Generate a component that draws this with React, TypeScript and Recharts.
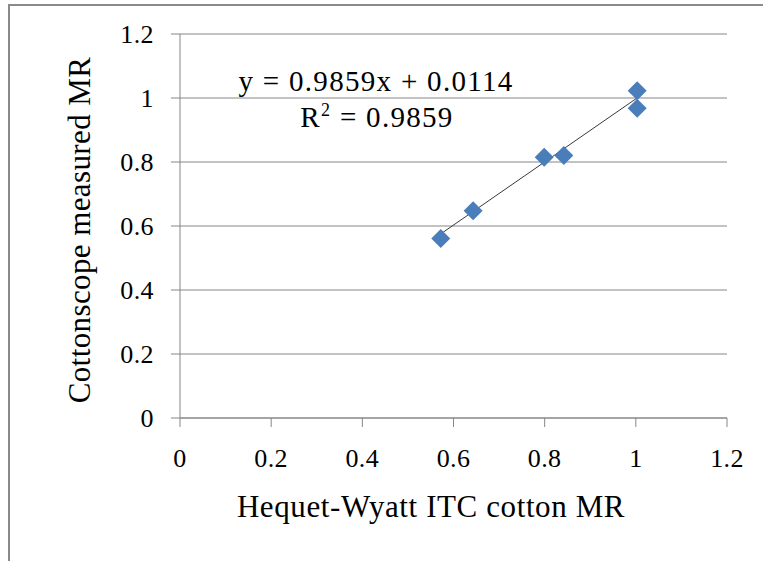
import React from 'react';
import { ScatterChart, Scatter, XAxis, YAxis, CartesianGrid, ReferenceLine } from 'recharts';

const hwMR = [0.572, 0.643, 0.799, 0.842, 1.003, 1.003];
const csMR = [0.561, 0.648, 0.815, 0.82, 1.023, 0.968];
const xTicks = [0, 0.2, 0.4, 0.6, 0.8, 1, 1.2];
const yTicks = [0, 0.2, 0.4, 0.6, 0.8, 1, 1.2];
const slope = 0.9859;
const intercept = 0.0114;
const rSquared = '0.9859';
const xTitle = 'Hequet-Wyatt ITC cotton MR';
const yTitle = 'Cottonscope measured MR';

const points = hwMR.map((x, i) => ({ x, y: csMR[i] }));
const xMin = Math.min(...hwMR);
const xMax = Math.max(...hwMR);
const trend = [
  { x: xMin, y: slope * xMin + intercept },
  { x: xMax, y: slope * xMax + intercept },
];

const FONT = 'Liberation Serif';
const GREY = '#868686';
const BLUE = '#4a7ebb';

const Diamond = (props: any) => {
  const { cx, cy } = props;
  const r = 9.5;
  return (
    <polygon
      points={`${cx},${cy - r} ${cx + r},${cy} ${cx},${cy + r} ${cx - r},${cy}`}
      fill={BLUE}
    />
  );
};

const tickStyle = { fill: '#000', fontSize: 26, fontFamily: FONT, letterSpacing: 0.4 };

export default function App() {
  return (
    <div
      style={{
        position: 'absolute',
        left: 0,
        top: 0,
        width: 763,
        height: 561,
        background: '#fff',
        fontFamily: FONT,
      }}
    >
      <div
        style={{
          position: 'absolute',
          left: 8,
          top: 4,
          width: 760,
          height: 560,
          borderTop: '2px solid #8a8a8a',
          borderLeft: '2px solid #8a8a8a',
        }}
      />
      <div style={{ position: 'absolute', left: 0, top: 0 }}>
        <ScatterChart
          width={763}
          height={561}
          margin={{ top: 34, right: 36, left: 80, bottom: 83 }}
          style={{ fontFamily: FONT }}
        >
          <CartesianGrid vertical={false} stroke={GREY} strokeWidth={1} />
          <XAxis
            type="number"
            dataKey="x"
            domain={[0, 1.2]}
            ticks={xTicks}
            interval={0}
            height={60}
            tickSize={9}
            tickMargin={22}
            axisLine={{ stroke: GREY }}
            tickLine={{ stroke: GREY }}
            tick={tickStyle}
          />
          <YAxis
            type="number"
            dataKey="y"
            domain={[0, 1.2]}
            ticks={yTicks}
            interval={0}
            width={100}
            tickSize={9}
            tickMargin={17}
            axisLine={{ stroke: GREY }}
            tickLine={{ stroke: GREY }}
            tick={tickStyle}
          />
          <ReferenceLine
            segment={[trend[0], trend[1]]}
            stroke="#3a3a3a"
            strokeWidth={1}
          />
          <Scatter data={points} shape={<Diamond />} isAnimationActive={false} />
          <text
            x={376}
            y={91}
            textAnchor="middle"
            style={{ fontFamily: FONT, fontSize: 29, letterSpacing: 1.3 }}
            fill="#000"
          >
            {`y = ${slope}x + ${intercept}`}
          </text>
          <text
            x={377}
            y={127}
            textAnchor="middle"
            style={{ fontFamily: FONT, fontSize: 29, letterSpacing: 1.3 }}
            fill="#000"
          >
            R
            <tspan style={{ fontSize: 18 }} dy={-11}>2</tspan>
            <tspan dy={11}>{` = ${rSquared}`}</tspan>
          </text>
          <text
            x={431}
            y={517}
            textAnchor="middle"
            style={{ fontFamily: FONT, fontSize: 31, letterSpacing: 0.6 }}
            fill="#000"
          >
            {xTitle}
          </text>
          <text
            x={0}
            y={0}
            transform="translate(90, 230) rotate(-90)"
            textAnchor="middle"
            style={{ fontFamily: FONT, fontSize: 31, letterSpacing: 0.4 }}
            fill="#000"
          >
            {yTitle}
          </text>
        </ScatterChart>
      </div>
    </div>
  );
}
